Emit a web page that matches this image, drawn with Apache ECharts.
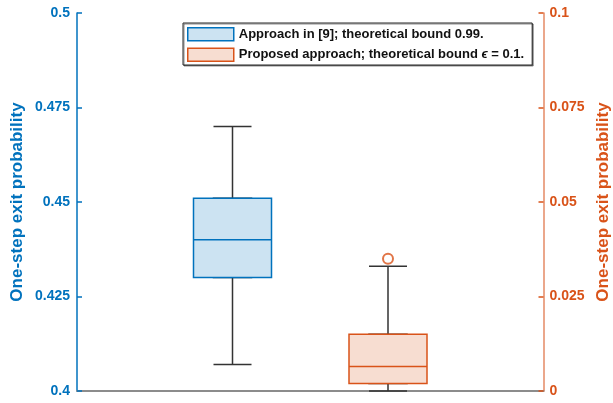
<!DOCTYPE html>
<html>
<head>
<meta charset="utf-8">
<script src="https://cdn.jsdelivr.net/npm/echarts@6/dist/echarts.min.js"></script>
<style>
  html, body { margin: 0; padding: 0; background: #fff; }
  #chart { width: 613px; height: 403px; }
</style>
</head>
<body>
<div id="chart"></div>
<script>
// Slots along the x axis: the two boxes sit at the inner positions.
const slots = ['', 'Approach in [9]', 'Proposed approach', ''];
const seriesNames = [
  'Approach in [9]; theoretical bound 0.99.',
  'Proposed approach; theoretical bound ϵ = 0.1.'
];
// [lower whisker, Q1, median, Q3, upper whisker]
const baselineStats = [0.407, 0.430, 0.440, 0.451, 0.470];
const proposedStats = [0.000, 0.002, 0.0065, 0.015, 0.033];
const proposedOutliers = [0.035];
// Tick values of both y axes
const leftTicks = [0.4, 0.425, 0.45, 0.475, 0.5];
const rightTicks = [0, 0.025, 0.05, 0.075, 0.1];

const BLUE = '#0072BD';
const ORANGE = '#D95319';
const BLUE_FILL = '#CCE3F2';
const ORANGE_FILL = '#F7DDD1';
const FONT = '"Liberation Sans", Arial, Helvetica, sans-serif';

// place a five-number summary at a given slot index
function at(slotIndex, stats) {
  return [[slotIndex].concat(stats)];
}
function boxOnly(stats) {
  return [stats[1], stats[1], stats[2], stats[3], stats[3]];
}

const chart = echarts.init(document.getElementById('chart'));

const tickLabel = v => String(+v.toFixed(3));

// one category axis per boxplot series so the boxes are not shifted side by side
function slotAxis(visible) {
  return {
    type: 'category',
    data: slots,
    boundaryGap: false,
    show: visible,
    axisLine: { show: visible, lineStyle: { color: '#8c8c8c', width: 2 } },
    axisTick: { show: false },
    axisLabel: { show: false },
    splitLine: { show: false }
  };
}

chart.setOption({
  animation: false,
  grid: { left: 77, right: 69.5, top: 13, bottom: 12, containLabel: false, outerBoundsMode: 'none' },
  legend: {
    data: [
      { name: seriesNames[0], itemStyle: { color: BLUE_FILL, borderColor: BLUE, borderWidth: 1.5 } },
      { name: seriesNames[1], itemStyle: { color: ORANGE_FILL, borderColor: ORANGE, borderWidth: 1.5 } }
    ],
    orient: 'vertical',
    left: 183,
    top: 23,
    padding: [4, 8, 3, 4],
    itemGap: 6,
    itemWidth: 46,
    itemHeight: 13,
    icon: 'rect',
    backgroundColor: '#fff',
    borderColor: '#262626',
    borderWidth: 1,
    shadowColor: 'rgba(0,0,0,0.45)',
    shadowOffsetX: 1,
    shadowOffsetY: 1,
    shadowBlur: 0,
    textStyle: {
      fontFamily: FONT, fontSize: 13, fontWeight: 'bold', color: '#111',
      rich: {
        b: { fontFamily: FONT, fontSize: 13, fontWeight: 'bold', color: '#111' },
        e: { fontFamily: FONT, fontSize: 13, fontStyle: 'italic', color: '#111' }
      }
    },
    formatter: name => {
      const i = name.indexOf('ϵ');
      if (i < 0) return '{b|' + name + '}';
      return '{b|' + name.slice(0, i) + '}{e|ϵ}{b|' + name.slice(i + 1) + '}';
    }
  },
  xAxis: [slotAxis(true), slotAxis(false), slotAxis(false), slotAxis(false), slotAxis(false)],
  yAxis: [
    {
      type: 'value', min: leftTicks[0], max: leftTicks[leftTicks.length - 1], interval: 0.025,
      position: 'left',
      name: 'One-step exit probability',
      nameLocation: 'middle', nameGap: 51, nameMoveOverlap: false,
      nameTextStyle: { fontFamily: FONT, fontSize: 17, fontWeight: 'bold', color: BLUE },
      axisLine: { show: true, lineStyle: { color: BLUE, width: 1.5 } },
      axisTick: { show: true, inside: true, length: 5, lineStyle: { color: BLUE, width: 1.5 } },
      axisLabel: { formatter: tickLabel, margin: 7, fontFamily: FONT, fontSize: 14, fontWeight: 'bold', color: BLUE },
      splitLine: { show: false }
    },
    {
      type: 'value', min: rightTicks[0], max: rightTicks[rightTicks.length - 1], interval: 0.025,
      position: 'right',
      name: 'One-step exit probability',
      nameLocation: 'middle', nameGap: 51, nameRotate: 90, nameMoveOverlap: false,
      nameTextStyle: { fontFamily: FONT, fontSize: 17, fontWeight: 'bold', color: ORANGE },
      axisLine: { show: true, lineStyle: { color: '#E58A64', width: 1.5 } },
      axisTick: { show: true, inside: true, length: 5, lineStyle: { color: ORANGE, width: 1.5 } },
      axisLabel: { formatter: tickLabel, margin: 6, fontFamily: FONT, fontSize: 14, fontWeight: 'bold', color: ORANGE },
      splitLine: { show: false }
    }
  ],
  series: [
    // whiskers (dark) drawn narrow underneath the coloured boxes
    {
      name: 'whisker-baseline', type: 'boxplot', xAxisIndex: 1, yAxisIndex: 0,
      boxWidth: [38, 38],
      encode: { x: 0, y: [1, 2, 3, 4, 5] },
      data: at(1, baselineStats),
      itemStyle: { color: '#fff', borderColor: '#333', borderWidth: 1.5 },
      emphasis: { disabled: true }, silent: true
    },
    {
      name: 'whisker-proposed', type: 'boxplot', xAxisIndex: 2, yAxisIndex: 1,
      boxWidth: [38, 38],
      encode: { x: 0, y: [1, 2, 3, 4, 5] },
      data: at(2, proposedStats),
      itemStyle: { color: '#fff', borderColor: '#333', borderWidth: 1.5 },
      emphasis: { disabled: true }, silent: true
    },
    // boxes with median lines
    {
      name: seriesNames[0], type: 'boxplot', xAxisIndex: 3, yAxisIndex: 0,
      boxWidth: [78, 78],
      encode: { x: 0, y: [1, 2, 3, 4, 5] },
      data: at(1, boxOnly(baselineStats)),
      itemStyle: { color: BLUE_FILL, borderColor: BLUE, borderWidth: 1.5 },
      emphasis: { disabled: true }
    },
    {
      name: seriesNames[1], type: 'boxplot', xAxisIndex: 4, yAxisIndex: 1,
      boxWidth: [78, 78],
      encode: { x: 0, y: [1, 2, 3, 4, 5] },
      data: at(2, boxOnly(proposedStats)),
      itemStyle: { color: ORANGE_FILL, borderColor: ORANGE, borderWidth: 1.5 },
      emphasis: { disabled: true }
    },
    {
      name: 'outliers', type: 'scatter', xAxisIndex: 0, yAxisIndex: 1,
      symbol: 'emptyCircle', symbolSize: 10,
      data: proposedOutliers.map(v => [2, v]),
      itemStyle: { color: ORANGE, borderColor: ORANGE, borderWidth: 1.5 },
      emphasis: { disabled: true }, z: 5
    }
  ]
});
</script>
</body>
</html>
